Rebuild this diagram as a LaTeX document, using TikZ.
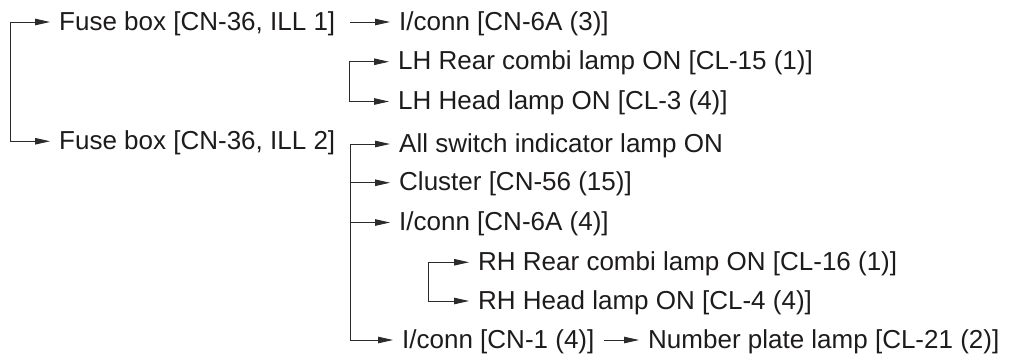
\documentclass[tikz,border=0pt]{standalone}
\usepackage{fontspec}
\setmainfont{Liberation Sans}
\usepackage{tikz}
\usetikzlibrary{arrows.meta,positioning,calc}
\definecolor{Ink}{HTML}{1E1B1C}
\definecolor{Wire}{HTML}{2B2B2B}

\begin{document}
\begin{tikzpicture}[x=1pt, y=-1pt, >={Stealth[length=15pt, width=6.5pt, inset=0pt]},
    font=\fontsize{26}{30}\selectfont,
    item/.style={anchor=west, inner xsep=9pt, inner ysep=0pt, text height=16pt, text depth=0pt, text=Ink},
    wire/.style={->, Wire, line width=0.9pt}]
    \useasboundingbox (0,0) rectangle (1019,360);

    % left column
    \node[item] (fuse1) at (50,22) {Fuse box [CN-36, ILL 1]};
    \node[item] (fuse2) at (50,141.25) {Fuse box [CN-36, ILL 2]};

    % ILL 1 branch
    \node[item] (conn1) at (390,22) {I/conn [CN-6A (3)]};
    \node[item] (lhrear) at (389,61.75) {LH Rear combi lamp ON [CL-15 (1)]};
    \node[item] (lhhead) at (389,101.5) {LH Head lamp ON [CL-3 (4)]};

    % ILL 2 branch
    \node[item] (allsw) at (390,144) {All switch indicator lamp ON};
    \node[item] (cluster) at (390,182.75) {Cluster [CN-56 (15)]};
    \node[item] (conn2) at (390,222.5) {I/conn [CN-6A (4)]};
    \node[item] (rhrear) at (469,262.25) {RH Rear combi lamp ON [CL-16 (1)]};
    \node[item] (rhhead) at (469,301) {RH Head lamp ON [CL-4 (4)]};
    \node[item] (conn3) at (393,340) {I/conn [CN-1 (4)]};
    \node[item] (plate) at (639,340) {Number plate lamp [CL-21 (2)]};

    \coordinate (busA) at (10,22);
    \coordinate (busB) at (349,61.75);
    \coordinate (busC) at (350,144);
    \coordinate (busD) at (428,262.25);

    \draw[wire] (busA) -- (fuse1.west);
    \draw[wire] (busA) |- (fuse2.west);
    \draw[wire, shorten <=6pt] (fuse1.east) -- (conn1.west);

    \draw[wire] (busB) -- (lhrear.west);
    \draw[wire] (busB) |- (lhhead.west);

    \draw[wire] (busC) -- (allsw.west);
    \draw[wire] (busC) |- (conn3.west);
    \draw[wire] (cluster.west -| busC) -- (cluster.west);
    \draw[wire] (conn2.west -| busC) -- (conn2.west);

    \draw[wire] (busD) -- (rhrear.west);
    \draw[wire] (busD) |- (rhhead.west);
    \draw[wire] (conn3.east) -- (plate.west);
\end{tikzpicture}
\end{document}
